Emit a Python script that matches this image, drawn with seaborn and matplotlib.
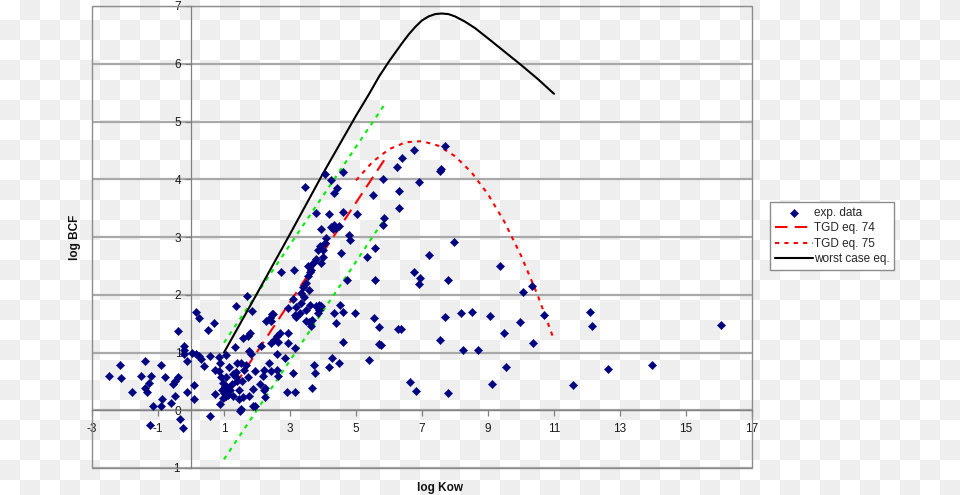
import numpy as np
import matplotlib
matplotlib.use("Agg")
import matplotlib.pyplot as plt
import seaborn as sns
from matplotlib.patches import Rectangle

# ---------------- data ----------------
exp_logkow = [
    -2.49, -2.14, -2.13, -1.78, -1.39, -1.53, -1.22, -1.27, -1.39, -1.32, -0.92, -0.80,
    -1.16, -0.92, -0.88, -0.60, -0.50, -0.56, -0.47, -0.38, -0.39, -0.22, -0.21, -0.12,
    -0.12, 0.08, 0.08, 0.16, 0.24, 0.51, 0.69, 0.02, 0.14, 0.23, 0.31, 0.38, 0.58, 0.59,
    0.73, 0.84, 0.86, 0.88, 0.73, 0.88, -0.33, -1.23, -0.23, 0.91, -0.20,
    1.05, 0.98, 1.07, 1.00, 1.00, 1.05, 0.95, 1.03, 1.08, 0.97, 1.10, 1.12, 1.19, 1.27,
    1.45, 1.27, 1.35, 1.39, 1.50, 1.39, 1.45, 1.57, 1.52, 1.75, 1.87, 1.87, 1.67, 1.72,
    1.95, 2.18, 2.08, 2.20, 2.25, 2.23, 2.35, 2.20, 2.43, 2.60, 2.63, 2.86, 3.10, 2.90,
    3.15, 1.34, 1.37, 1.70, 1.59, 1.72, 1.79, 1.77, 1.82, 2.13, 1.84, 2.26, 2.44, 2.43,
    2.60, 2.53, 2.43, 2.70, 2.93, 2.93, 3.16, 2.61, 2.65, 1.49, 1.94, 1.37, 1.60, 1.25,
    1.15, 1.55,
    3.29, 3.47, 3.14, 3.19, 3.34, 2.73, 3.11, 3.54, 3.62, 3.49, 3.39, 3.59, 3.34, 3.41,
    3.08, 3.61, 3.79, 3.95, 3.89, 2.93, 2.48, 3.19, 3.67, 3.64, 3.84, 3.59, 2.38, 3.49,
    3.79, 4.17, 4.62, 5.02, 5.86, 5.81, 3.95, 4.25, 4.32, 4.40, 4.47, 4.30, 4.80, 4.83,
    4.08, 4.05, 3.92, 4.00, 3.84, 4.55, 5.59, 5.33, 3.79, 3.95, 3.99, 3.69, 3.64, 3.54,
    4.72, 5.59, 3.44, 4.05, 4.23, 4.62, 4.42, 4.33, 5.81, 5.51, 6.24, 6.77, 6.39, 7.71,
    7.54, 7.58, 6.90, 6.30, 6.30, 7.96, 7.20, 9.37, 6.77,
    4.52, 4.98, 4.62, 5.56, 5.71, 4.40, 4.33, 4.60, 5.69, 5.76, 4.27, 4.48, 4.17, 5.39,
    3.72, 3.77, 3.66, 6.27, 6.37, 3.87,
    6.94, 6.91, 7.78, 10.34, 10.05, 10.69, 12.10, 12.16, 16.05, 7.70, 8.19, 8.50, 9.05,
    9.98, 9.48, 7.55, 10.36, 8.23, 8.71, 9.54, 12.65, 13.98, 6.65, 6.82, 7.79, 9.12, 11.57,
]
exp_logbcf = [
    0.59, 0.79, 0.56, 0.32, 0.85, 0.60, 0.60, 0.48, 0.39, 0.31, 0.78, 0.58,
    0.07, 0.07, 0.20, 0.13, 0.25, 0.45, 0.51, 0.57, 1.38, 1.11, 0.98, 0.85,
    0.32, 0.43, 0.20, 1.70, 1.60, 1.39, 1.51, 1.00, 0.98, 0.94, 0.89, 0.76, 0.94, -0.10,
    0.70, 0.68, 0.93, 0.81, 0.29, 0.10, -0.16, -0.25, -0.30, 0.57, 1.04,
    0.96, 0.47, 0.57, 0.38, 0.30, 0.25, 0.35, 0.42, 0.33, 0.22, 0.40, 0.27, 0.35, 0.24,
    0.20, 0.62, 0.67, 0.81, 0.82, 0.51, 0.35, 0.23, 0.03, 0.24, 0.37, 0.07, 0.78, 0.58,
    0.68, 0.59, 0.46, 0.35, 0.39, 0.23, 0.82, 0.70, 0.68, 0.69, 0.59, 0.90, 0.65, 0.31,
    0.32, 1.10, 1.81, 1.98, 1.25, 1.29, 1.33, 1.02, 0.98, 1.11, 1.71, 1.55, 1.66, 1.55,
    1.28, 1.22, 1.16, 1.33, 1.34, 1.16, 1.08, 0.97, 1.18, -0.01, 0.07, 0.57, 0.70, 0.45,
    0.75, 0.50,
    1.69, 1.55, 1.65, 1.79, 1.86, 2.40, 2.43, 2.50, 2.40, 2.20, 2.13, 2.08, 2.03, 1.96,
    1.93, 1.82, 1.81, 1.81, 1.74, 1.77, 1.67, 1.62, 1.56, 1.46, 1.68, 1.53, 1.60, 1.74,
    3.42, 3.39, 3.44, 3.40, 3.33, 3.21, 3.14, 3.18, 3.20, 3.16, 3.19, 3.13, 3.04, 2.95,
    2.98, 2.89, 2.84, 2.78, 2.78, 2.72, 2.81, 2.65, 2.62, 2.55, 2.65, 2.55, 2.43, 2.33,
    2.26, 2.26, 3.87, 4.09, 3.98, 4.13, 3.84, 3.77, 4.00, 3.72, 4.21, 4.50, 4.37, 4.57,
    4.14, 4.18, 3.95, 3.79, 3.50, 2.92, 2.69, 2.50, 2.39,
    1.82, 1.68, 1.70, 1.59, 1.45, 1.51, 1.69, 1.18, 1.15, 1.13, 0.90, 0.81, 0.75, 0.87,
    0.78, 0.65, 0.39, 1.40, 1.40, 1.82,
    2.29, 2.18, 2.25, 2.15, 2.05, 1.65, 1.70, 1.46, 1.48, 1.61, 1.68, 1.70, 1.63,
    1.53, 1.34, 1.22, 1.16, 1.04, 1.04, 0.75, 0.72, 0.79, 0.49, 0.34, 0.30, 0.45, 0.43,
]

eq74_x = [1.0, 5.9]
eq74_y = [0.15, 4.37]

band_upper_x = [1.0, 5.86]
band_upper_y = [1.17, 5.29]
band_lower_x = [1.0, 5.85]
band_lower_y = [-0.85, 3.30]

eq75_x = [5.0, 5.5, 6.0, 6.5, 7.0, 7.5, 8.0, 8.5, 9.0, 9.5, 10.0, 10.5, 11.0]
eq75_y = [3.98, 4.30, 4.52, 4.64, 4.66, 4.58, 4.40, 4.12, 3.74, 3.26, 2.68, 2.00, 1.22]

worst_x = [1.0, 2.0, 3.0, 4.0, 5.0, 5.4, 5.7, 6.0, 6.2, 6.4, 6.6, 6.8, 7.0, 7.2, 7.4,
           7.6, 7.8, 8.0, 8.3, 8.6, 9.0, 9.5, 10.0, 10.5, 11.0]
worst_y = [1.0, 2.02, 3.05, 4.10, 5.10, 5.48, 5.78, 6.04, 6.20, 6.36, 6.51, 6.64, 6.75,
           6.82, 6.86, 6.87, 6.86, 6.82, 6.73, 6.62, 6.44, 6.21, 5.98, 5.74, 5.48]

x_ticks = [-3, -1, 1, 3, 5, 7, 9, 11, 13, 15, 17]
y_ticks = [-1, 0, 1, 2, 3, 4, 5, 6, 7]

legend_labels = ["exp. data", "TGD eq. 74", "TGD eq. 75", "worst case eq."]

# ---------------- styling ----------------
sns.set_theme(style="white")
plt.rcParams["font.family"] = ["Liberation Sans", "DejaVu Sans"]

W, H = 960, 495
fig = plt.figure(figsize=(W / 100, H / 100), dpi=100)
fig.patch.set_alpha(0)

# transparent-background checkerboard seen in the reference
yy, xx = np.mgrid[0:H, 0:W]
cell = ((yy // 20 + xx // 20) % 2).astype(bool)
img = np.ones((H, W, 3))
img[cell] = 0.937
fig.figimage(img, 0, 0, origin="upper", zorder=-10)

ax = fig.add_axes([92 / W, 27 / H, 660 / W, 462 / H])
ax.set_facecolor("none")
ax.set_xlim(-3, 17)
ax.set_ylim(-1, 7)

# axes cross at the origin
for side in ("top", "right"):
    ax.spines[side].set_visible(False)
ax.spines["left"].set_position(("data", 0))
ax.spines["bottom"].set_position(("data", 0))
for side in ("left", "bottom"):
    ax.spines[side].set_color("#808080")
    ax.spines[side].set_linewidth(0.9)
    ax.spines[side].set_zorder(1.5)

ax.add_patch(Rectangle((0, 0), 1, 1, transform=ax.transAxes, fill=False,
                       edgecolor="#8c8c8c", lw=1.0, clip_on=False, zorder=1))

ax.set_xticks(x_ticks)
ax.set_yticks(y_ticks)
ax.set_xticklabels([str(t) for t in x_ticks])
ax.set_yticklabels([str(t) for t in y_ticks])
ax.tick_params(axis="both", direction="out", length=4, width=0.9, color="#808080",
               labelsize=8.5, labelcolor="#1a1a1a", bottom=True, left=True)
ax.tick_params(axis="x", pad=5)
ax.tick_params(axis="y", pad=3)
ax.yaxis.grid(True, color="#a9a9a9", lw=1.6)
ax.xaxis.grid(False)
ax.set_axisbelow(True)

lw = 1.5
sns.lineplot(x=band_upper_x, y=band_upper_y, ax=ax, color="#00ee00", lw=lw,
             linestyle=(0, (2, 2.5)), sort=False, estimator=None, zorder=2)
sns.lineplot(x=band_lower_x, y=band_lower_y, ax=ax, color="#00ee00", lw=lw,
             linestyle=(0, (2, 2.5)), sort=False, estimator=None, zorder=2)
sns.lineplot(x=eq74_x, y=eq74_y, ax=ax, color="#ff0000", lw=lw,
             linestyle=(0, (6, 3.5)), sort=False, estimator=None, zorder=2,
             label=legend_labels[1])
sns.lineplot(x=eq75_x, y=eq75_y, ax=ax, color="#ff0000", lw=lw,
             linestyle=(0, (2, 2.5)), sort=False, estimator=None, zorder=2,
             label=legend_labels[2])
sns.lineplot(x=worst_x, y=worst_y, ax=ax, color="black", lw=lw, sort=False,
             estimator=None, zorder=2, label=legend_labels[3])
sns.scatterplot(x=exp_logkow, y=exp_logbcf, ax=ax, marker="D", s=18, color="#000080",
                edgecolor="#000080", linewidth=0.3, zorder=3, label=legend_labels[0])

handles, labels = ax.get_legend_handles_labels()
order = [labels.index(l) for l in legend_labels]
leg = ax.legend([handles[i] for i in order], [labels[i] for i in order],
                loc="upper left", bbox_to_anchor=(770 / W, 1 - 202 / H),
                bbox_transform=fig.transFigure, borderaxespad=0, frameon=True,
                fancybox=False, edgecolor="#8c8c8c", facecolor="white", framealpha=1,
                fontsize=8.5, handlelength=3.2, handletextpad=0.1, borderpad=0.4,
                labelspacing=0.3)
leg.get_frame().set_linewidth(1.0)

fig.text(75 / W, 1 - 237 / H, "log BCF", rotation=90, ha="center", va="center",
         fontsize=8.5, fontweight="bold", color="#111111")
fig.text(440 / W, 1 - 488 / H, "log Kow", ha="center", va="center",
         fontsize=8.5, fontweight="bold", color="#111111")

fig.savefig("out.png", dpi=100)
